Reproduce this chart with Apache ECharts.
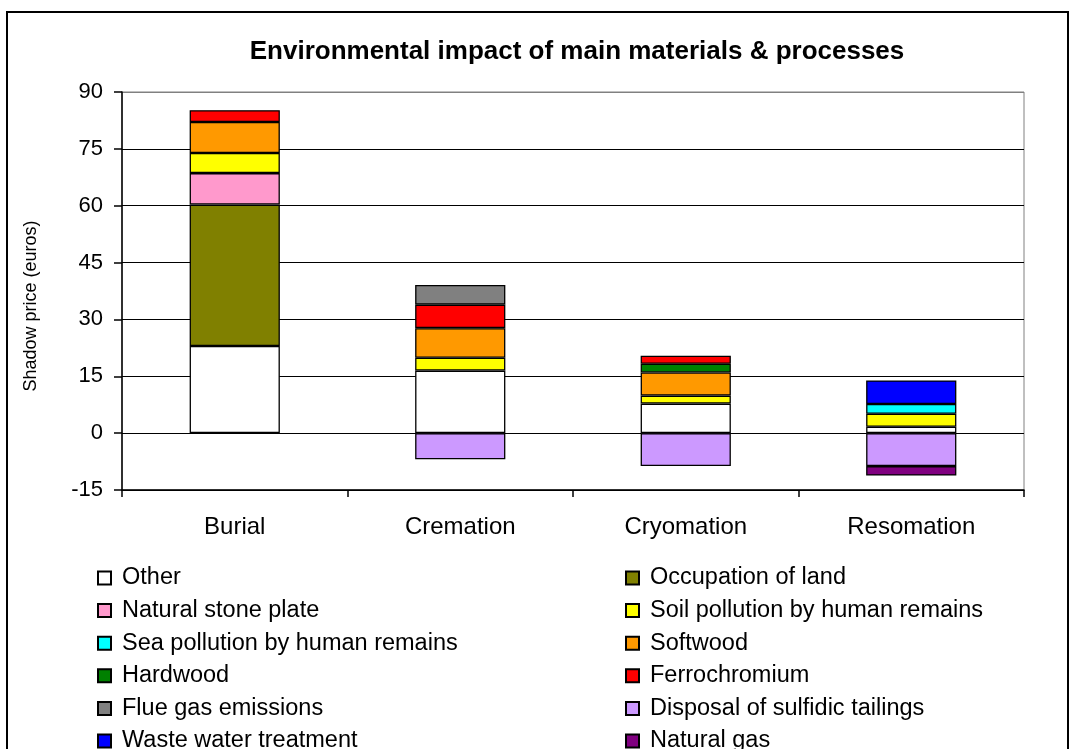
<!DOCTYPE html>
<html>
<head>
<meta charset="utf-8">
<script src="https://cdn.jsdelivr.net/npm/echarts@6/dist/echarts.min.js"></script>
<style>
  html, body { margin: 0; padding: 0; background: #fff; }
  #chart { width: 1073px; height: 749px; }
</style>
</head>
<body>
<div id="chart"></div>
<script>
// Categories (disposal methods)
const categories = ['Burial', 'Cremation', 'Cryomation', 'Resomation'];

// Shadow price contributions in euros, one value per category
const other       = [23.0, 16.5, 7.8, 1.7];
const occupation  = [37.3, null, null, null];
const stonePlate  = [8.3, null, null, null];
const soilPoll    = [5.3, 3.4, 2.1, 3.4];
const seaPoll     = [null, null, null, 2.6];
const softwood    = [8.2, 7.8, 6.1, null];
const hardwood    = [null, null, 2.3, null];
const ferro       = [3.1, 6.2, 2.1, null];
const flueGas     = [null, 5.2, null, null];
const disposal    = [null, -6.9, -8.7, -8.7];
const wasteWater  = [null, null, null, 6.2];
const naturalGas  = [null, null, null, -2.5];

const seriesDefs = [
  ['Other', other, '#FFFFFF'],
  ['Occupation of land', occupation, '#808000'],
  ['Natural stone plate', stonePlate, '#FF99CC'],
  ['Soil pollution by human remains', soilPoll, '#FFFF00'],
  ['Sea pollution by human remains', seaPoll, '#00FFFF'],
  ['Softwood', softwood, '#FF9900'],
  ['Hardwood', hardwood, '#008000'],
  ['Ferrochromium', ferro, '#FF0000'],
  ['Flue gas emissions', flueGas, '#808080'],
  ['Disposal of sulfidic tailings', disposal, '#CC99FF'],
  ['Waste water treatment', wasteWater, '#0000FF'],
  ['Natural gas', naturalGas, '#800080']
];

const yTicks = [-15, 0, 15, 30, 45, 60, 75, 90];

const FONT = '"Liberation Sans", Arial, sans-serif';

// Legend is laid out in two columns, filled row by row
const names = seriesDefs.map(d => d[0]);
const leftCol = names.filter((_, i) => i % 2 === 0);
const rightCol = names.filter((_, i) => i % 2 === 1);

const legendBase = {
  orient: 'vertical',
  top: 566,
  height: 260,
  padding: 0,
  itemWidth: 13,
  itemHeight: 13,
  itemGap: 8.6,
  icon: 'rect',
  selectedMode: false,
  textStyle: { fontFamily: FONT, fontSize: 23.5, color: '#000', lineHeight: 22, padding: [0, 0, 0, 6] }
};

const chart = echarts.init(document.getElementById('chart'), null, { renderer: 'canvas' });
chart.setOption({
  animation: false,
  backgroundColor: '#fff',
  title: {
    text: 'Environmental impact of main materials & processes',
    left: 572,
    top: 34,
    textAlign: 'center',
    textStyle: { fontFamily: FONT, fontSize: 26, fontWeight: 'bold', color: '#000' }
  },
  graphic: [{
    type: 'rect',
    shape: { x: 7, y: 12, width: 1061, height: 780 },
    style: { fill: 'none', stroke: '#000', lineWidth: 2 },
    silent: true
  }],
  legend: [
    Object.assign({}, legendBase, { left: 97, data: leftCol }),
    Object.assign({}, legendBase, { left: 625, data: rightCol })
  ],
  grid: {
    left: 122, right: 49, top: 92, bottom: 259,
    show: true, borderColor: '#808080', borderWidth: 1, backgroundColor: 'transparent'
  },
  xAxis: {
    type: 'category',
    data: categories,
    axisLine: { onZero: false, lineStyle: { color: '#000', width: 1.5 } },
    axisTick: { show: true, length: 7, alignWithLabel: false, lineStyle: { color: '#000', width: 1.5 } },
    axisLabel: { fontFamily: FONT, fontSize: 24, color: '#000', margin: 25 }
  },
  yAxis: {
    type: 'value',
    min: yTicks[0],
    max: yTicks[yTicks.length - 1],
    interval: 15,
    name: 'Shadow price (euros)',
    nameLocation: 'middle',
    nameGap: 82,
    nameTextStyle: { fontFamily: FONT, fontSize: 18, color: '#000', padding: [0, 30, 0, 0] },
    axisLine: { show: true, lineStyle: { color: '#000', width: 1.5 } },
    axisTick: { show: true, length: 8, lineStyle: { color: '#000', width: 1.5 } },
    axisLabel: { fontFamily: FONT, fontSize: 22, color: '#000', margin: 19 },
    splitLine: { show: true, lineStyle: { color: ['#000', '#000', '#000', '#000', '#000', '#000', '#000', '#808080'], width: 1.2 } }
  },
  series: seriesDefs.map(([name, data, color]) => ({
    name,
    type: 'bar',
    stack: 'total',
    barWidth: '40%',
    data,
    itemStyle: { color, borderColor: '#000', borderWidth: 1.3 },
    emphasis: { disabled: true }
  }))
});
</script>
</body>
</html>
